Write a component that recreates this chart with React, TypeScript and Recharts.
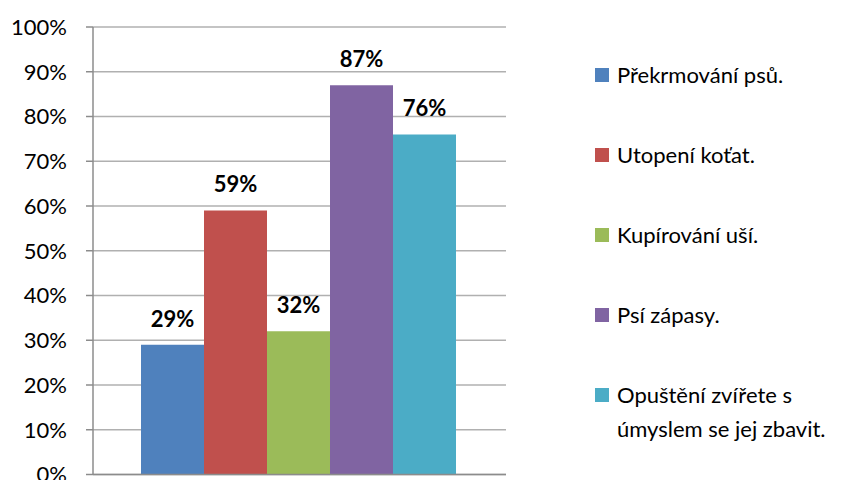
import { Bar, BarChart, CartesianGrid, LabelList, XAxis, YAxis } from "recharts";

const seriesNames = [
  "Překrmování psů.",
  "Utopení koťat.",
  "Kupírování uší.",
  "Psí zápasy.",
  "Opuštění zvířete s úmyslem se jej zbavit.",
];
const seriesValues = [29, 59, 32, 87, 76];
const seriesColors = ["#4F81BD", "#C0504D", "#9BBB59", "#8064A2", "#4BACC6"];
const yTicks = [0, 10, 20, 30, 40, 50, 60, 70, 80, 90, 100];

const keys = seriesNames.map((_, i) => `s${i}`);
const row: Record<string, number | string> = { name: "" };
keys.forEach((k, i) => {
  row[k] = seriesValues[i];
});
const data = [row];

const FONT = "Lato, 'Liberation Sans', sans-serif";
const GRID = "#B0B0B0";
const AXIS = "#8C8C8C";

// legend drawn beside the chart so it doesn't eat plot width
function SideLegend() {
  return (
    <div
      style={{
        position: "absolute",
        left: 595,
        top: 58,
        width: 259,
        fontFamily: FONT,
        fontSize: 22,
        color: "#000",
        lineHeight: "34px",
      }}
    >
      {seriesNames.map((name, i) => (
        <div key={name} style={{ display: "flex", alignItems: "flex-start", height: 80 }}>
          <span
            style={{
              width: 14,
              height: 14,
              marginTop: 10,
              marginRight: 8,
              background: seriesColors[i],
              flex: "0 0 auto",
            }}
          />
          <span style={{ width: 236 }}>{name}</span>
        </div>
      ))}
    </div>
  );
}

export default function App() {
  return (
    <div style={{ position: "absolute", left: 0, top: 0, width: 854, height: 480, background: "#fff" }}>
      <BarChart
        width={854}
        height={480}
        data={data}
        margin={{ top: 27, right: 348, bottom: 0, left: 0 }}
        barCategoryGap={48}
        barGap={0}
      >
        <CartesianGrid vertical={false} stroke={GRID} strokeWidth={1.5} />
        <XAxis dataKey="name" height={5.5} tick={false} tickLine={false} stroke={AXIS} strokeWidth={1.5} />
        <YAxis
          width={93}
          domain={[0, 100]}
          ticks={yTicks}
          interval={0}
          tickFormatter={(v) => `${v}%`}
          tickSize={7}
          tickMargin={19}
          stroke={AXIS}
          strokeWidth={1.5}
          tick={{ fill: "#000", fontSize: 22, fontFamily: FONT }}
        />
        {keys.map((k, i) => (
          <Bar key={k} dataKey={k} name={seriesNames[i]} fill={seriesColors[i]} isAnimationActive={false}>
            <LabelList
              dataKey={k}
              position="top"
              offset={18}
              formatter={(v: any) => `${v}%`}
              style={{ fill: "#000", fontSize: 22, fontWeight: 700, fontFamily: FONT }}
            />
          </Bar>
        ))}
      </BarChart>
      <SideLegend />
    </div>
  );
}
